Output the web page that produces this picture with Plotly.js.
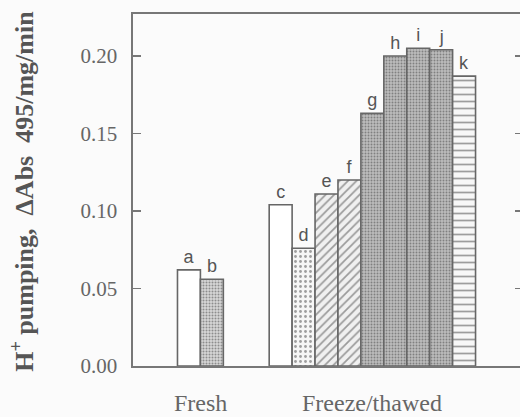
<!DOCTYPE html>
<html>
<head>
<meta charset="utf-8">
<script src="https://cdn.plot.ly/plotly-3.0.1.min.js"></script>
<style>
html,body{margin:0;padding:0;overflow:hidden;background:#fbfbfb;}
#chart{width:523px;height:417px;}
</style>
</head>
<body>
<div id="chart"></div>
<script>
// ---- data ----
var groups = ["Fresh", "Freeze/thawed"];
var freshLetters = ["a", "b"];
var freshValues = [0.062, 0.056];
var thawLetters = ["c", "d", "e", "f", "g", "h", "i", "j", "k"];
var thawValues = [0.104, 0.076, 0.111, 0.120, 0.163, 0.200, 0.205, 0.204, 0.187];
var yTicks = [0.00, 0.05, 0.10, 0.15, 0.20];
var yTickLabels = ["0.00", "0.05", "0.10", "0.15", "0.20"];

// ---- styles per letter ----
var styleMap = {
  a: {shape: "", fg: "#777", bg: "#ffffff", size: 6, sol: 0.3},
  b: {shape: ".", fg: "#959595", bg: "#d6d6d6", size: 3, sol: 0.35},
  c: {shape: "", fg: "#777", bg: "#ffffff", size: 6, sol: 0.3},
  d: {shape: ".", fg: "#a0a0a0", bg: "#f6f6f6", size: 5, sol: 0.25},
  e: {shape: "/", fg: "#8c8c8c", bg: "#f0f0f0", size: 6, sol: 0.28},
  f: {shape: "/", fg: "#8c8c8c", bg: "#f0f0f0", size: 6, sol: 0.28},
  g: {shape: ".", fg: "#858585", bg: "#bcbcbc", size: 3, sol: 0.32},
  h: {shape: ".", fg: "#858585", bg: "#bcbcbc", size: 3, sol: 0.32},
  i: {shape: ".", fg: "#858585", bg: "#bcbcbc", size: 3, sol: 0.32},
  j: {shape: ".", fg: "#858585", bg: "#bcbcbc", size: 3, sol: 0.32},
  k: {shape: "-", fg: "#9a9a9a", bg: "#f7f7f7", size: 7, sol: 0.25}
};

var groupLetters = [freshLetters, thawLetters];
var groupValues = [freshValues, thawValues];

var xs = [], ys = [], labels = [], groupCenters = [];
var pos = 0;
for (var g = 0; g < groupLetters.length; g++) {
  var start = pos;
  for (var i = 0; i < groupLetters[g].length; i++) {
    xs.push(pos);
    ys.push(groupValues[g][i]);
    labels.push(groupLetters[g][i]);
    pos += 1;
  }
  groupCenters.push((start + pos - 1) / 2);
  pos += 2;
}

var trace = {
  type: "bar",
  x: xs,
  y: ys,
  width: 1,
  text: labels,
  textposition: "outside",
  cliponaxis: false,
  textfont: {family: "Liberation Sans, Arial, sans-serif", size: 18, color: "#555"},
  hoverinfo: "none",
  marker: {
    color: labels.map(function (l) { return styleMap[l].bg; }),
    line: {color: "#666", width: 1.6},
    pattern: {
      shape: labels.map(function (l) { return styleMap[l].shape; }),
      fgcolor: labels.map(function (l) { return styleMap[l].fg; }),
      size: labels.map(function (l) { return styleMap[l].size; }),
      solidity: labels.map(function (l) { return styleMap[l].sol; }),
      fillmode: "overlay"
    }
  }
};

var annotations = groups.map(function (name, k) {
  return {
    text: name, x: groupCenters[k], y: 0, xref: "x", yref: "y",
    yanchor: "top", xanchor: "center", yshift: -22, showarrow: false,
    font: {family: "Liberation Serif, Times New Roman, serif", size: 24, color: "#666"}
  };
});
annotations.push({
  text: "H<sup>+</sup> pumping,\u00a0\u00a0\u0394Abs\u00a0\u00a0495/mg/min",
  xref: "paper", yref: "paper", x: -0.282, y: 0.495,
  xanchor: "center", yanchor: "middle", textangle: -90, showarrow: false,
  font: {family: "Liberation Serif, Times New Roman, serif", size: 26, color: "#555", weight: "bold"}
});

var layout = {
  width: 523, height: 417,
  margin: {l: 133, r: 0, t: 14, b: 51, pad: 0},
  paper_bgcolor: "#fbfbfb",
  plot_bgcolor: "#fbfbfb",
  showlegend: false,
  bargap: 0,
  xaxis: {
    range: [-2.44, 14.57],
    showline: true, mirror: true, linecolor: "#777", linewidth: 1.6,
    showgrid: false, zeroline: false, ticks: "", showticklabels: false
  },
  yaxis: {
    range: [0, 0.2271],
    tickvals: yTicks, ticktext: yTickLabels,
    ticks: "inside", ticklen: 8, tickwidth: 1.6, tickcolor: "#777",
    showline: true, mirror: "ticks", linecolor: "#777", linewidth: 1.6,
    showgrid: false, zeroline: false,
    ticklabelstandoff: 10,
    tickfont: {family: "Liberation Serif, Times New Roman, serif", size: 21, color: "#666"}
  },
  annotations: annotations
};

Plotly.newPlot("chart", [trace], layout, {displayModeBar: false, staticPlot: true});
</script>
</body>
</html>
